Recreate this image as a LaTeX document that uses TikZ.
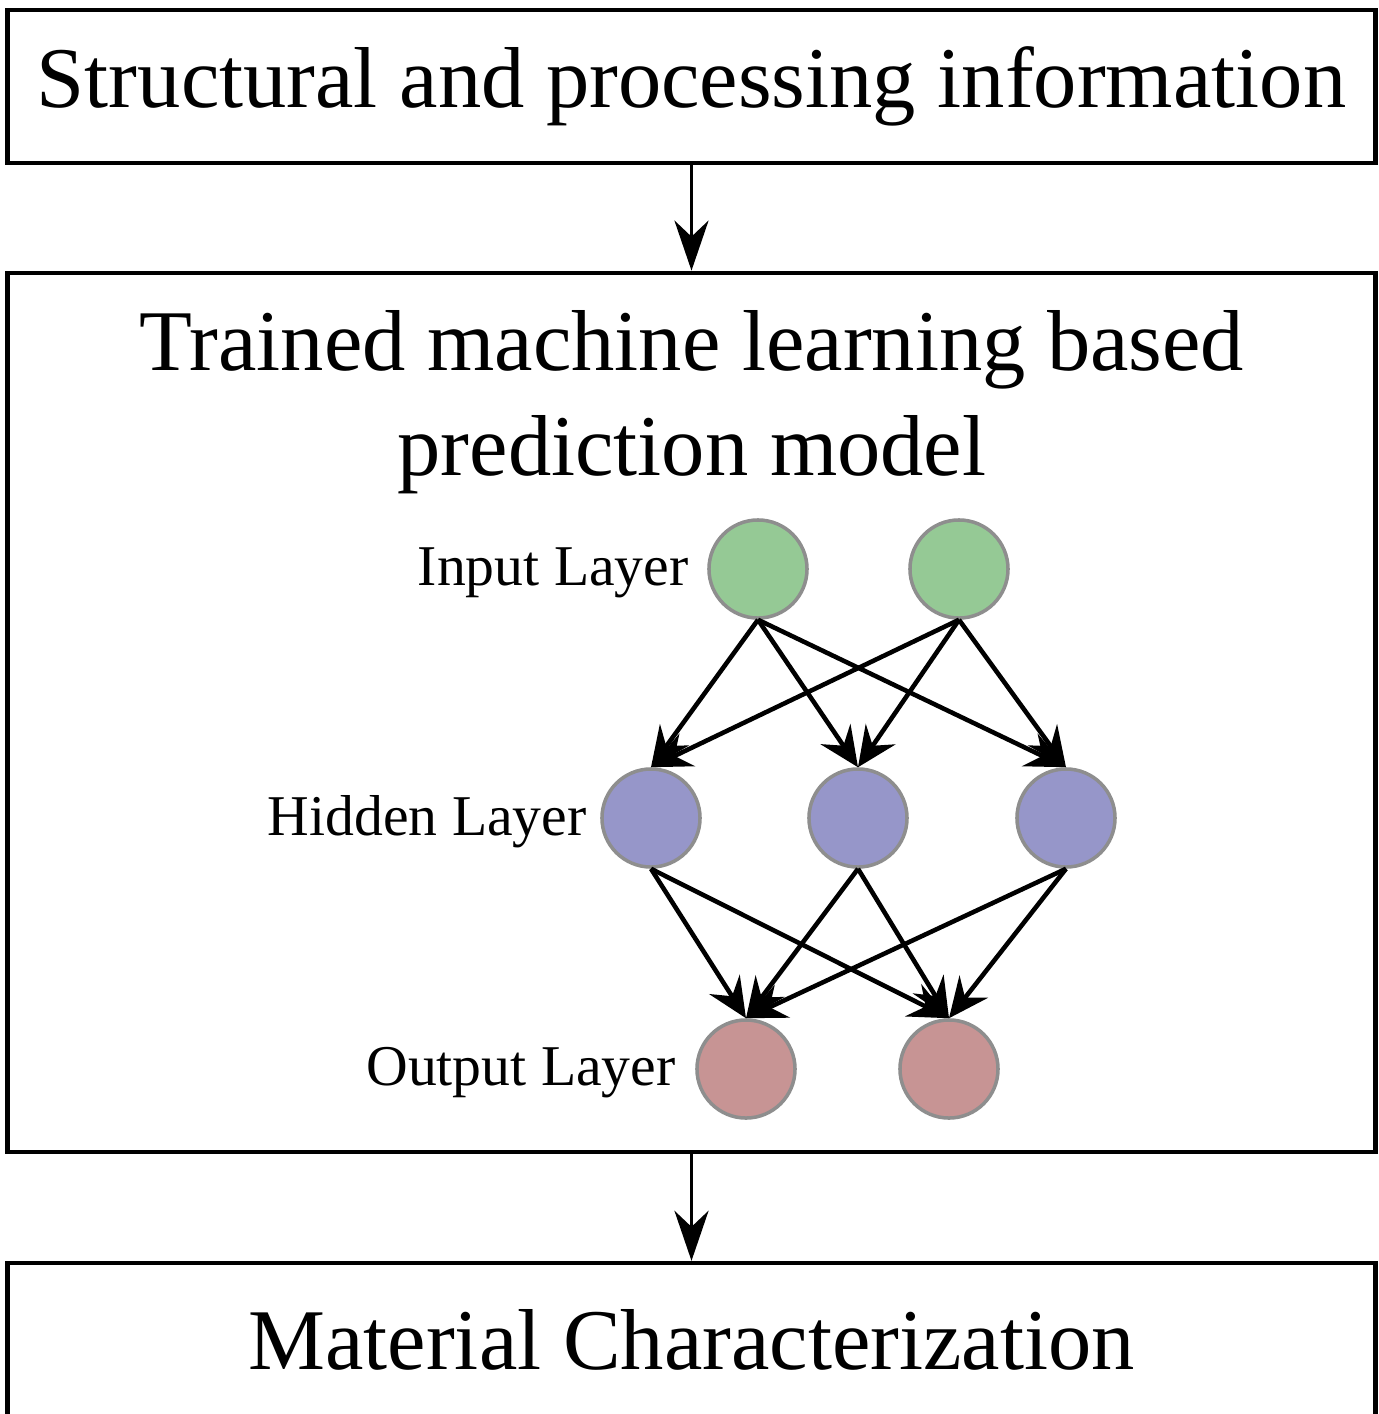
\documentclass[tikz,border=0pt]{standalone}
\usepackage{fontspec}
\setmainfont{Liberation Serif}
\usetikzlibrary{arrows.meta,positioning}
\definecolor{ink}{HTML}{000000}
\definecolor{rim}{HTML}{8E8E8E}
\definecolor{inGreen}{HTML}{95C995}
\definecolor{hidViolet}{HTML}{9696C9}
\definecolor{outRose}{HTML}{C79494}
\tikzset{
  stagebox/.style={draw=ink,line width=1.2pt,fill=white,minimum width=13.67cm,inner sep=0pt,align=center,font=\fontsize{24.6}{29.9}\selectfont},
  flow/.style={-{Stealth[length=5mm,width=3.4mm,inset=1.6mm]},line width=1.1pt,draw=ink},
  neuron/.style={circle,draw=rim,line width=1pt,minimum size=0.98cm,inner sep=0pt},
  link/.style={-{Stealth[length=4mm,width=3.6mm,inset=1.4mm]},line width=1.3pt,draw=ink},
  layerlab/.style={font=\fontsize{16.4}{20}\selectfont,inner sep=0pt,anchor=east,yshift=-0.04cm}
}
\begin{document}
\begin{tikzpicture}[x=0.01cm,y=-0.01cm]
        \fill[white] (0,0) rectangle (1379,1414);
        \useasboundingbox (0,0) rectangle (1379,1414);

        % three stages
        \node[stagebox,minimum height=1.53cm] (info) at (691.5,86.5) {Structural and processing information};
        \node[stagebox,minimum height=8.79cm] (model) at (691.5,712.5) {};
        \node[stagebox,minimum height=1.54cm] (charac) at (691.5,1340) {Material Characterization};
        \node[stagebox,draw=none,fill=none,minimum width=0pt] (title) at (692,402) {Trained machine learning based\\prediction model};

        \draw[flow] (info.south) -- (model.north);
        \draw[flow] (model.south) -- (charac.north);

        % network
        \node[neuron,fill=inGreen] (i1) at (758,569) {};
        \node[neuron,fill=inGreen] (i2) at (959,569) {};
        \node[neuron,fill=hidViolet] (h1) at (651,818) {};
        \node[neuron,fill=hidViolet] (h2) at (858,818) {};
        \node[neuron,fill=hidViolet] (h3) at (1066,818) {};
        \node[neuron,fill=outRose] (o1) at (746,1069) {};
        \node[neuron,fill=outRose] (o2) at (949,1069) {};

        \node[layerlab,left=0.18cm of i1] (inlab) {Input Layer};
        \node[layerlab,left=0.13cm of h1] (hidlab) {Hidden Layer};
        \node[layerlab,left=0.19cm of o1] (outlab) {Output Layer};

        \foreach \a in {i1,i2}
          \foreach \b in {h1,h2,h3}
            \draw[link] (\a.south) -- (\b.north);
        \foreach \a in {h1,h2,h3}
          \foreach \b in {o1,o2}
            \draw[link] (\a.south) -- (\b.north);
      \end{tikzpicture}
\end{document}
